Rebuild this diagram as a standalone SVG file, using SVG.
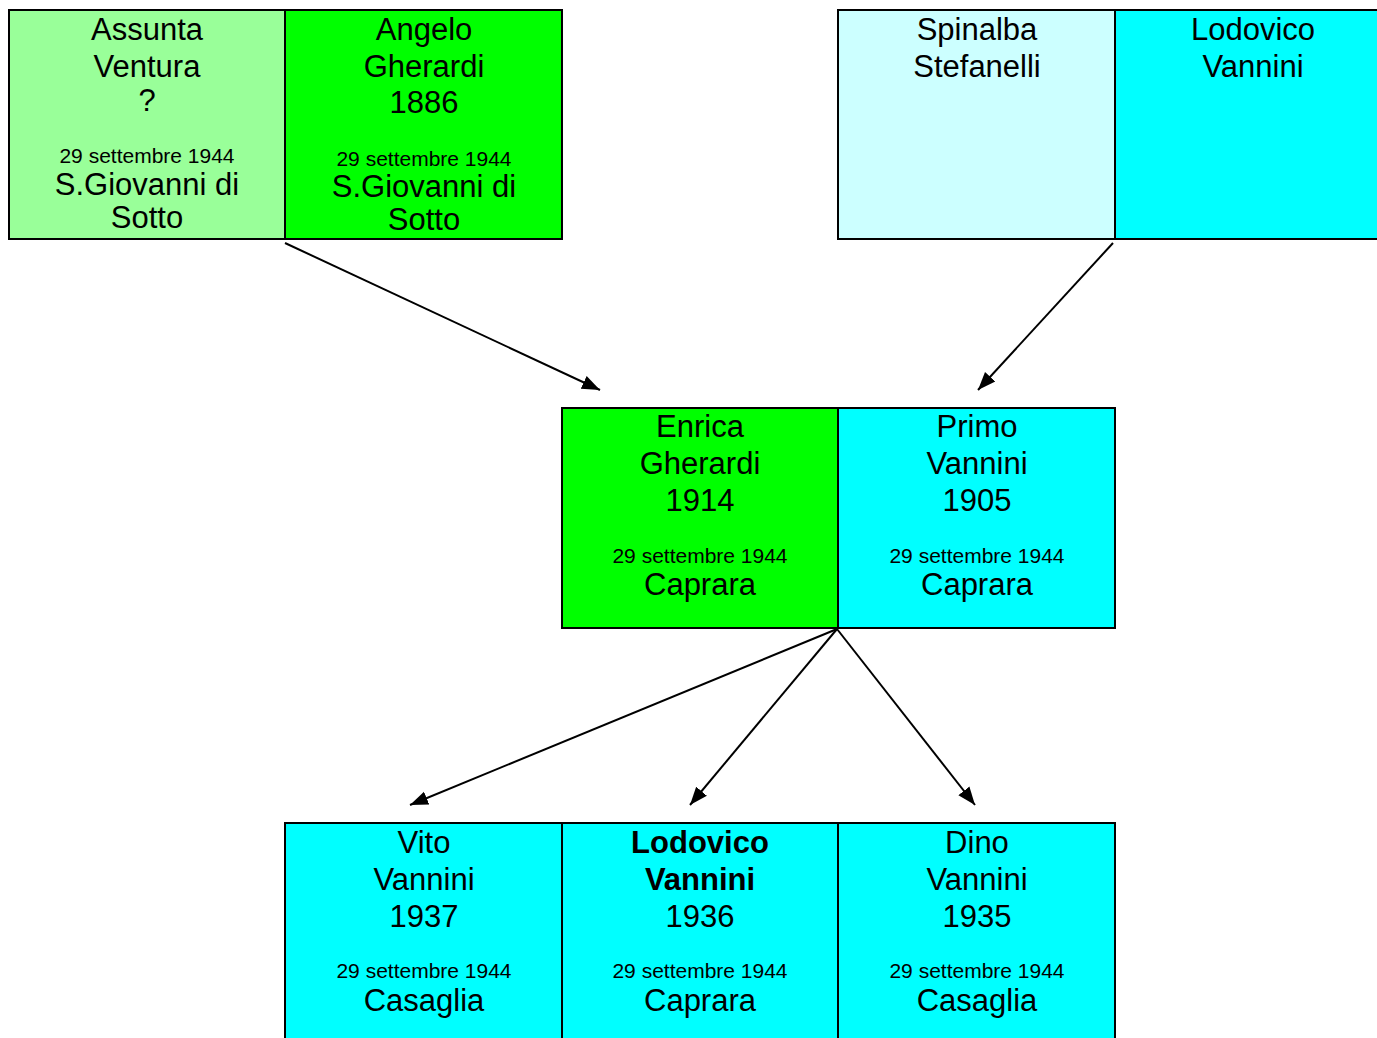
<svg xmlns="http://www.w3.org/2000/svg" width="1377" height="1038" viewBox="0 0 1377 1038">
<defs>
<style>
.box{stroke:#000;stroke-width:2}
.lg{fill:#99ff99}.g{fill:#00ff00}.lc{fill:#ccffff}.c{fill:#00ffff}
text{font-family:"Liberation Sans",Arial,sans-serif;fill:#000;text-anchor:middle}
.n{font-size:31px}
.d{font-size:21px}
.b{font-weight:bold}
.conn{stroke:#000;stroke-width:2;fill:none}
</style>
<marker id="ah" markerUnits="userSpaceOnUse" markerWidth="20" markerHeight="16" refX="18" refY="7" orient="auto" viewBox="0 0 20 14">
<path d="M0,0 L18,7 L0,14 z" fill="#000"/>
</marker>
</defs>
<rect width="1377" height="1038" fill="#fff"/>
<g id="connectors">
<line class="conn" x1="285" y1="243" x2="600" y2="390" marker-end="url(#ah)"/>
<line class="conn" x1="1113" y1="243" x2="978" y2="390" marker-end="url(#ah)"/>
<line class="conn" x1="837" y1="629" x2="410" y2="805" marker-end="url(#ah)"/>
<line class="conn" x1="837" y1="629" x2="690" y2="805" marker-end="url(#ah)"/>
<line class="conn" x1="837" y1="629" x2="975" y2="805" marker-end="url(#ah)"/>
</g>
<g id="assunta">
<rect class="box lg" x="9" y="10" width="276" height="229"/>
<text class="n" x="147" y="40">Assunta</text>
<text class="n" x="147" y="77">Ventura</text>
<text class="n" x="147" y="111">?</text>
<text class="d" x="147" y="163">29 settembre 1944</text>
<text class="n" x="147" y="195">S.Giovanni di</text>
<text class="n" x="147" y="228">Sotto</text>
</g>
<g id="angelo">
<rect class="box g" x="285" y="10" width="277" height="229"/>
<text class="n" x="424" y="40">Angelo</text>
<text class="n" x="424" y="77">Gherardi</text>
<text class="n" x="424" y="113">1886</text>
<text class="d" x="424" y="166">29 settembre 1944</text>
<text class="n" x="424" y="197">S.Giovanni di</text>
<text class="n" x="424" y="230">Sotto</text>
</g>
<g id="spinalba">
<rect class="box lc" x="838" y="10" width="277" height="229"/>
<text class="n" x="977" y="40">Spinalba</text>
<text class="n" x="977" y="77">Stefanelli</text>
</g>
<g id="lodovico-sr">
<rect class="box c" x="1115" y="10" width="276" height="229"/>
<text class="n" x="1253" y="40">Lodovico</text>
<text class="n" x="1253" y="77">Vannini</text>
</g>
<g id="enrica">
<rect class="box g" x="562" y="408" width="276" height="220"/>
<text class="n" x="700" y="437">Enrica</text>
<text class="n" x="700" y="474">Gherardi</text>
<text class="n" x="700" y="511">1914</text>
<text class="d" x="700" y="563">29 settembre 1944</text>
<text class="n" x="700" y="595">Caprara</text>
</g>
<g id="primo">
<rect class="box c" x="838" y="408" width="277" height="220"/>
<text class="n" x="977" y="437">Primo</text>
<text class="n" x="977" y="474">Vannini</text>
<text class="n" x="977" y="511">1905</text>
<text class="d" x="977" y="563">29 settembre 1944</text>
<text class="n" x="977" y="595">Caprara</text>
</g>
<g id="vito">
<rect class="box c" x="285" y="823" width="277" height="230"/>
<text class="n" x="424" y="853">Vito</text>
<text class="n" x="424" y="890">Vannini</text>
<text class="n" x="424" y="927">1937</text>
<text class="d" x="424" y="978">29 settembre 1944</text>
<text class="n" x="424" y="1011">Casaglia</text>
</g>
<g id="lodovico">
<rect class="box c" x="562" y="823" width="276" height="230"/>
<text class="n b" x="700" y="853">Lodovico</text>
<text class="n b" x="700" y="890">Vannini</text>
<text class="n" x="700" y="927">1936</text>
<text class="d" x="700" y="978">29 settembre 1944</text>
<text class="n" x="700" y="1011">Caprara</text>
</g>
<g id="dino">
<rect class="box c" x="838" y="823" width="277" height="230"/>
<text class="n" x="977" y="853">Dino</text>
<text class="n" x="977" y="890">Vannini</text>
<text class="n" x="977" y="927">1935</text>
<text class="d" x="977" y="978">29 settembre 1944</text>
<text class="n" x="977" y="1011">Casaglia</text>
</g>
</svg>
